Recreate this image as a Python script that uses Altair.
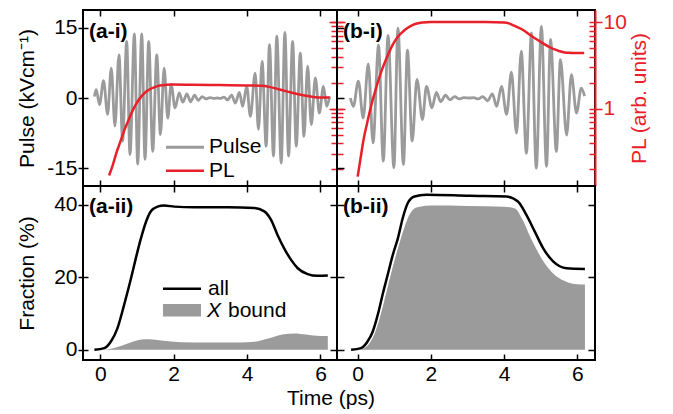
import altair as alt
import pandas as pd

FONT = "Liberation Sans"
FS = 21
GRAY = "#9b9b9b"
RED = "#e8202a"

# ---------------- data ----------------
time_ticks = [0, 2, 4, 6]
pulse_ticks = [-15, 0, 15]
pl_major = [1, 10]
pl_minor = [0.2, 0.3, 0.4, 0.5, 0.6, 0.7, 0.8, 0.9, 1, 2, 3, 4, 5, 6, 7, 8, 9, 10]
frac_ticks = [0, 20, 40]

# (a-i) pulse: successive extrema
a_pulse_t = [-0.16, -0.11, -0.02, 0.09, 0.20, 0.30, 0.40, 0.51, 0.61, 0.72, 0.81, 0.93, 1.02,
             1.13, 1.22, 1.32, 1.43, 1.54, 1.64, 1.74, 1.84, 1.93, 2.04, 2.15, 2.25, 2.36,
             2.46, 2.57, 2.67, 2.78, 2.88, 2.99, 3.10, 3.20, 3.27, 3.37, 3.47, 3.58, 3.68,
             3.79, 3.88, 3.99, 4.09, 4.22, 4.31, 4.41, 4.52, 4.61, 4.72, 4.81, 4.93, 5.03,
             5.13, 5.24, 5.34, 5.45, 5.55, 5.65, 5.75, 5.86, 5.97, 6.08, 6.17, 6.25]
a_pulse_v = [0.3, 1.8, -1.4, 3.7, -3.5, 6.4, -6.0, 9.2, -9.2, 12.1, -12.1, 13.7, -14.1,
             13.7, -13.1, 12.1, -11.4, 9.2, -7.8, 6.4, -4.3, 2.9, -2.1, 1.1, -0.9, 0.9,
             -0.8, 0.6, -0.5, 0.3, -0.2, 0.1, -0.1, 0.0, -0.1, 0.2, -0.4, 0.6, -1.1,
             1.2, -1.8, 2.5, -3.9, 5.3, -6.7, 7.8, -10.3, 11.4, -12.4, 13.2, -13.9, 14.0,
             -12.4, 12.1, -10.3, 9.6, -8.2, 6.8, -5.7, 4.3, -3.2, 2.5, -1.8, 0.3]

# (b-i) pulse: successive extrema
b_pulse_t = [-0.20, -0.12, 0.02, 0.15, 0.29, 0.42, 0.57, 0.70, 0.83, 0.99, 1.10, 1.25, 1.36,
             1.49, 1.62, 1.77, 1.88, 2.03, 2.15, 2.27, 2.40, 2.52, 2.65, 2.78, 2.90, 3.05,
             3.17, 3.29, 3.42, 3.55, 3.68, 3.80, 3.93, 4.07, 4.20, 4.34, 4.47, 4.61, 4.75,
             4.88, 5.02, 5.16, 5.27, 5.43, 5.54, 5.71, 5.84, 5.98, 6.11, 6.20]
b_pulse_v = [0.0, -1.8, 3.6, -4.3, 7.3, -9.6, 11.3, -13.5, 13.4, -14.9, 14.9, -14.2, 10.2,
             -9.2, 4.0, -4.6, 2.5, -2.1, 1.2, -0.8, 0.6, -0.4, 0.3, -0.2, 0.1, 0.0,
             0.1, -0.2, 0.3, -0.6, 0.9, -1.8, 2.5, -3.5, 5.5, -7.5, 10.0, -11.8, 13.9,
             -15.0, 15.3, -14.6, 12.5, -11.4, 8.2, -7.9, 5.0, -3.2, 2.1, 0.4]

# PL (arb. units)
a_pl_t = [0.24, 0.35, 0.44, 0.55, 0.66, 0.78, 0.89, 1.00, 1.12, 1.23, 1.35, 1.50, 1.62, 1.80,
          1.98, 2.50, 3.00, 3.50, 4.00, 4.40, 4.60, 4.80, 5.00, 5.20, 5.40, 5.60, 5.80, 6.00, 6.25]
a_pl_v = [0.17, 0.23, 0.31, 0.42, 0.57, 0.76, 0.97, 1.18, 1.39, 1.55, 1.68, 1.79, 1.86, 1.89,
          1.90, 1.89, 1.88, 1.87, 1.86, 1.84, 1.79, 1.71, 1.62, 1.54, 1.47, 1.41, 1.37, 1.35, 1.35]
b_pl_t = [0.00, 0.08, 0.16, 0.25, 0.34, 0.45, 0.57, 0.68, 0.79, 0.90, 1.01, 1.12, 1.24, 1.37,
          1.51, 1.65, 1.78, 2.00, 2.50, 3.00, 3.50, 4.00, 4.15, 4.27, 4.40, 4.54, 4.67, 4.81,
          4.95, 5.09, 5.22, 5.36, 5.50, 5.63, 5.77, 5.90, 6.19]
b_pl_v = [0.165, 0.27, 0.44, 0.66, 0.97, 1.45, 2.16, 2.95, 3.84, 4.9, 5.98, 6.95, 7.8, 8.6,
          9.3, 9.7, 9.9, 10.0, 10.0, 10.0, 10.0, 9.9, 9.6, 9.1, 8.6, 8.0, 7.3, 6.66,
          6.1, 5.62, 5.2, 4.87, 4.65, 4.5, 4.42, 4.4, 4.4]

# Fraction (%)
a_all_t = [-0.16, 0.11, 0.29, 0.47, 0.65, 0.84, 0.97, 1.11, 1.25, 1.38, 1.56, 1.74, 2.02, 2.56,
           3.47, 4.20, 4.47, 4.65, 4.83, 5.01, 5.20, 5.38, 5.65, 5.92, 6.20]
a_all_v = [0.0, 0.45, 2.3, 6.0, 12.4, 19.8, 25.3, 30.8, 35.4, 38.2, 39.5, 39.8, 39.5, 39.3,
           39.3, 39.1, 38.2, 35.9, 31.7, 28.0, 24.8, 22.5, 20.9, 20.4, 20.5]
a_x_t = [0.0, 0.3, 0.6, 0.9, 1.2, 1.5, 1.8, 2.2, 3.0, 3.8, 4.2, 4.6, 5.0, 5.3, 5.6, 6.0, 6.2]
a_x_v = [0.0, 0.3, 1.2, 2.3, 2.9, 2.8, 2.4, 2.1, 2.0, 2.0, 2.2, 3.2, 4.3, 4.5, 4.2, 3.8, 3.8]

b_all_t = [-0.18, 0.09, 0.27, 0.41, 0.55, 0.68, 0.82, 0.96, 1.10, 1.23, 1.37, 1.55, 1.87, 3.06,
           4.06, 4.38, 4.61, 4.84, 5.07, 5.34, 5.71, 6.21]
b_all_v = [0.0, 0.45, 2.3, 5.0, 9.7, 15.2, 20.7, 26.2, 30.8, 36.3, 40.5, 42.3, 42.8, 42.5,
           42.3, 40.9, 37.2, 32.6, 28.0, 24.4, 22.5, 22.3]
b_x_t = [0.05, 0.30, 0.50, 0.65, 0.80, 0.95, 1.10, 1.25, 1.40, 1.55, 1.70, 2.00, 3.00, 4.00,
         4.30, 4.50, 4.70, 4.90, 5.10, 5.30, 5.50, 5.75, 6.00, 6.21]
b_x_v = [0.0, 1.5, 5.5, 10.5, 16.5, 22.5, 28.0, 33.0, 37.0, 39.0, 39.5, 39.8, 39.7, 39.5,
         39.0, 36.0, 31.5, 27.5, 24.0, 21.5, 19.8, 18.6, 18.1, 18.0]

panel_labels = ["(a-i)", "(b-i)", "(a-ii)", "(b-ii)"]
legend_top = ["Pulse", "PL"]
legend_bottom = ["all", "X", "bound"]
x_title = "Time (ps)"
pulse_title = "Pulse (kVcm\u207b\u00b9)"
pl_title = "PL (arb. units)"
frac_title = "Fraction (%)"

# ---------------- layout constants ----------------
WL, WR = 254, 258
HT, HB = 176, 174
XL = [-0.47, 6.45]
XR = [-0.565, 6.485]
PULSE_DOM = [-18.8, 18.8]
PL_DOM = [0.1285, 13.8]
FR_DOM = [-2.81, 45.19]


def df(t, v):
    return pd.DataFrame({"t": t, "v": v})


def xscale(dom):
    return alt.Scale(domain=dom, nice=False, zero=False)


def x_bottom(labels):
    return alt.Axis(orient="bottom", values=time_ticks, offset=-6, tickSize=6, domain=False,
                    grid=False, labels=labels, labelPadding=3, title=None)


def x_top():
    return alt.Axis(orient="top", values=time_ticks, offset=-6, tickSize=6, domain=False,
                    grid=False, labels=False, title=None)


LABEL_EXPR = "datum.value < 0 ? '-' + format(-datum.value, 'd') : format(datum.value, 'd')"


def txt(s, x, y, **kw):
    base = dict(font=FONT, fontSize=FS, align="left", baseline="middle", color="black")
    base.update(kw)
    return alt.Chart(pd.DataFrame({"s": [s]})).mark_text(**base).encode(
        text="s:N", x=alt.value(x), y=alt.value(y))


def hline(x1, x2, y, color, w):
    return alt.Chart(pd.DataFrame({"s": [0]})).mark_rule(color=color, strokeWidth=w).encode(
        x=alt.value(x1), x2=alt.value(x2), y=alt.value(y))


def top_panel(pt, pv, lt, lv, xdom, w, left, label):
    if left:
        yax = alt.Axis(orient="left", values=pulse_ticks, offset=-5, tickSize=10, domain=False,
                       grid=False, labelPadding=1, labelExpr=LABEL_EXPR,
                       title=pulse_title, titlePadding=9)
        plax = alt.Axis(orient="right", values=pl_major, offset=-8, tickSize=16, domain=False,
                        grid=False, labels=False, title=None, tickColor=RED)
        minax = alt.Axis(orient="right", values=pl_minor, offset=-6, tickSize=12, domain=False,
                         grid=False, labels=False, title=None, tickColor=RED)
    else:
        yax = alt.Axis(orient="left", values=pulse_ticks, offset=-7, tickSize=7, domain=False,
                       grid=False, labels=False, title=None)
        plax = alt.Axis(orient="right", values=pl_major, offset=0, tickSize=7, domain=True,
                        domainColor=RED, domainWidth=2, grid=False, labels=True,
                        labelColor=RED, labelPadding=1, tickColor=RED,
                        title=pl_title, titleColor=RED, titleAngle=270, titleBaseline="top",
                        titlePadding=2)
        minax = alt.Axis(orient="right", values=pl_minor, offset=-6, tickSize=6, domain=False,
                         grid=False, labels=False, title=None, tickColor=RED)
    pulse = alt.Chart(df(pt, pv)).mark_line(color=GRAY, strokeWidth=2.8, interpolate="monotone").encode(
        x=alt.X("t:Q", scale=xscale(xdom), axis=x_bottom(False)),
        y=alt.Y("v:Q", scale=alt.Scale(domain=PULSE_DOM, nice=False, zero=False), axis=yax))
    pl = alt.Chart(df(lt, lv)).mark_line(color=RED, strokeWidth=2.5, interpolate="monotone").encode(
        x=alt.X("t:Q", scale=xscale(xdom), axis=x_top()),
        y=alt.Y("v:Q", scale=alt.Scale(type="log", domain=PL_DOM, nice=False), axis=plax))
    minor = alt.Chart(df(lt, lv)).mark_line(opacity=0).encode(
        x=alt.X("t:Q", scale=xscale(xdom), axis=None),
        y=alt.Y("v:Q", scale=alt.Scale(type="log", domain=PL_DOM, nice=False), axis=minax))
    layers = [pulse, minor, pl, txt(label, 6, 22, fontWeight="bold")]
    if left:
        layers += [hline(83, 121, 137.3, GRAY, 3), txt(legend_top[0], 126, 137.3),
                   hline(83, 121, 160.8, RED, 2.5), txt(legend_top[1], 126, 160.8)]
    return alt.layer(*layers).resolve_scale(y="independent").resolve_axis(
        x="independent", y="independent").properties(width=w, height=HT)


def bottom_panel(at, av, xt, xv, xdom, w, left, label):
    if left:
        yax = alt.Axis(orient="left", values=frac_ticks, offset=-5, tickSize=10, domain=False,
                       grid=False, labelPadding=1, title=frac_title, titlePadding=16)
    else:
        yax = alt.Axis(orient="left", values=frac_ticks, offset=-7, tickSize=7, domain=False,
                       grid=False, labels=False, title=None)
    rax = alt.Axis(orient="right", values=frac_ticks, offset=-7, tickSize=7, domain=False,
                   grid=False, labels=False, title=None)
    yscale = alt.Scale(domain=FR_DOM, nice=False, zero=False)
    area = alt.Chart(df(xt, xv)).mark_area(color=GRAY, opacity=1, interpolate="monotone").encode(
        x=alt.X("t:Q", scale=xscale(xdom), axis=x_bottom(True)),
        y=alt.Y("v:Q", scale=yscale, axis=yax))
    line = alt.Chart(df(at, av)).mark_line(color="black", strokeWidth=2.5, interpolate="monotone").encode(
        x=alt.X("t:Q", scale=xscale(xdom), axis=x_top()),
        y=alt.Y("v:Q", scale=yscale, axis=rax))
    layers = [area, line, txt(label, 6, 21, fontWeight="bold")]
    if left:
        bx = alt.Chart(pd.DataFrame({"s": [0]})).mark_rect(color=GRAY).encode(
            x=alt.value(80), x2=alt.value(118), y=alt.value(118), y2=alt.value(130.5))
        layers += [hline(80, 118, 102.8, "black", 2.5), txt(legend_bottom[0], 125, 102.8),
                   bx, txt(legend_bottom[1], 124, 124.5, fontStyle="italic"),
                   txt(legend_bottom[2], 145, 124.5),
                   txt(x_title, 248, HB + 39, align="center")]
    return alt.layer(*layers).resolve_axis(x="independent", y="independent").properties(
        width=w, height=HB)


tl = top_panel(a_pulse_t, a_pulse_v, a_pl_t, a_pl_v, XL, WL, True, panel_labels[0])
tr = top_panel(b_pulse_t, b_pulse_v, b_pl_t, b_pl_v, XR, WR, False, panel_labels[1])
bl = bottom_panel(a_all_t, a_all_v, a_x_t, a_x_v, XL, WL, True, panel_labels[2])
br = bottom_panel(b_all_t, b_all_v, b_x_t, b_x_v, XR, WR, False, panel_labels[3])

chart = alt.concat(tl, tr, bl, br, columns=2, spacing=0, bounds="flush").properties(
    padding={"left": 7, "top": 0, "right": 0, "bottom": 0}, background="white"
).configure_view(stroke="black", strokeWidth=2).configure_axis(
    labelFont=FONT, titleFont=FONT, labelFontSize=FS, titleFontSize=FS,
    titleFontWeight="normal", labelColor="black", titleColor="black",
    tickColor="black", tickWidth=1.5, grid=False)

chart.save("out.html", embed_options={"renderer": "svg", "actions": False})
